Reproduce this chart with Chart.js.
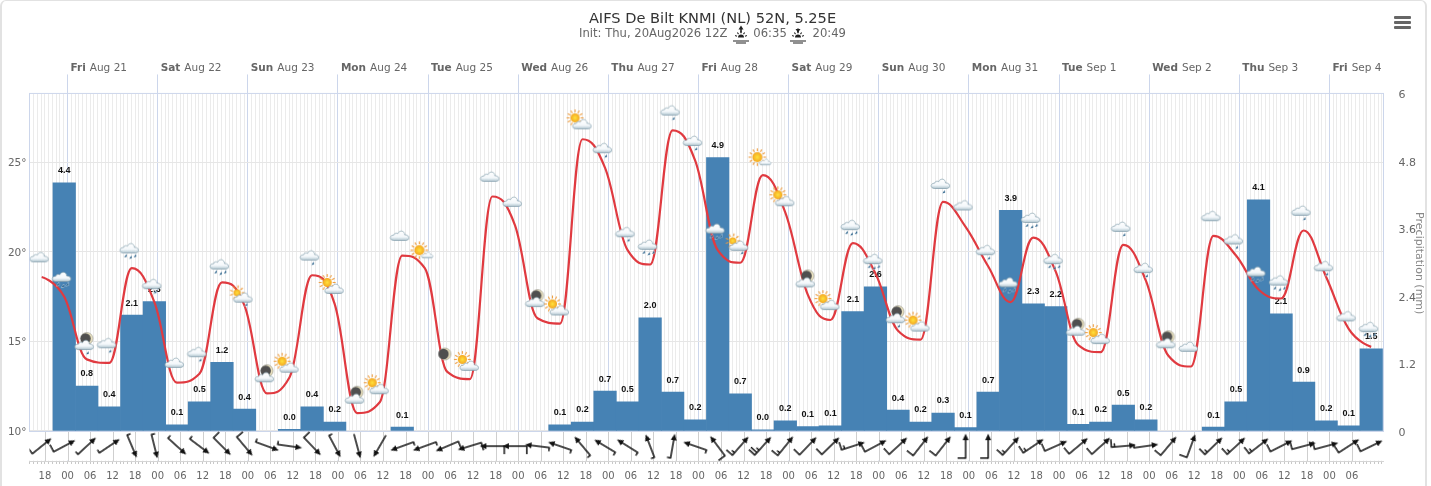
<!DOCTYPE html>
<html><head><meta charset="utf-8">
<style>
html,body{margin:0;padding:0;background:#fff;overflow:hidden}
#wrap{position:relative;width:1431px;height:486px}
canvas{position:absolute;left:0;top:0;display:block}
#frame{position:absolute;left:0;top:0;width:1423px;height:500px;border:2px solid #e2e2e2;border-radius:6px;pointer-events:none;box-sizing:content-box;border-left-width:2px;border-top-width:1px}
.mb{position:absolute;left:1394px;width:17px;height:3px;background:#666;border-radius:1px}
</style>
<script src="https://cdn.jsdelivr.net/npm/chart.js@4"></script>
</head><body>
<div id="wrap">
<canvas id="c" width="1425" height="486"></canvas>
<div id="frame"></div>
<div class="mb" style="top:16px"></div><div class="mb" style="top:21px"></div><div class="mb" style="top:26px"></div>
</div>
<script>
const titleText = 'AIFS De Bilt KNMI (NL) 52N, 5.25E';
const subtitleText = 'Init: Thu, 20Aug2026 12Z       06:35       20:49';
const axisTitle = 'Precipitation (mm)';
const dayNames = ['Fri','Sat','Sun','Mon','Tue','Wed','Thu','Fri','Sat','Sun','Mon','Tue','Wed','Thu','Fri'];
const dayDates = ['Aug 21','Aug 22','Aug 23','Aug 24','Aug 25','Aug 26','Aug 27','Aug 28','Aug 29','Aug 30','Aug 31','Sep 1','Sep 2','Sep 3','Sep 4'];
const tempTicks = [10,15,20,25];
const precipTicks = [0,1.2,2.4,3.6,4.8,6];
const temps = [18.6,17.5,14.0,13.8,19.1,17.2,12.7,13.2,18.3,17.0,12.1,13.0,18.7,17.1,11.0,11.6,19.8,19.1,13.3,12.9,
 23.1,21.5,16.3,16.0,26.3,24.7,20.1,19.3,26.8,25.1,20.1,19.4,24.3,22.2,17.6,16.2,20.5,18.8,15.6,15.1,
 22.8,21.4,19.2,17.2,20.8,18.9,14.8,14.4,20.4,18.4,14.2,13.6,20.9,19.8,17.9,17.4,21.2,18.6,15.7,14.7];
const precip = [4.41,0.8,0.43,2.06,2.3,0.11,0.52,1.22,0.39,null,0.03,0.43,0.16,null,null,0.07,null,null,null,null,null,null,
 0.11,0.16,0.71,0.52,2.01,0.69,0.2,4.86,0.66,0.02,0.18,0.08,0.09,2.12,2.56,0.37,0.16,0.32,0.06,0.69,3.92,2.26,2.21,0.12,0.16,0.46,0.2,null,null,
 0.07,0.52,4.11,2.08,0.87,0.18,0.09,1.46];
const iconKinds = ['c','R','mr','r','R','r','c','r','R','sr','m','s','r','s','m','s','c','S','n','s',
 'c','c','m','s','s','r','r','R','r','r','R','sr','S','s','m','s','R','R','mr','s',
 'r','c','r','R','R','R','m','s','r','r','m','c','c','r','R','R','r','r','c','R'];
const iconTemps = [19.7,18.6,14.8,14.9,20.2,18.2,13.8,14.4,19.3,17.5,13.0,13.7,19.8,18.1,11.8,12.5,20.9,20.1,14.3,13.8,
 24.2,22.8,17.2,16.9,27.3,25.8,21.1,20.4,27.9,26.2,21.3,20.4,25.3,23.0,18.3,17.2,21.5,19.6,16.3,16.0,
 23.8,22.6,20.1,18.3,21.9,19.6,15.6,15.3,21.4,19.1,14.9,14.7,22.0,20.7,18.9,18.4,22.3,19.2,16.4,15.8];
const windHeading = [51,62,47,56,157,166,132,127,135,140,110,98,136,152,165,210,250,250,247,253,
 270,270,277,289,320,301,302,339,10,289,323,41,42,39,44,46,72,62,47,38,
 38,0,0,42,56,66,50,48,85,82,40,20,46,47,52,63,75,75,57,64];
const windKnots = [10,10,5,5,5,5,5,5,10,10,5,5,10,5,0,0,5,5,10,10,
 10,10,5,5,5,5,5,5,5,5,10,15,25,15,10,10,15,10,10,10,
 10,10,10,15,15,10,10,10,15,5,10,10,15,15,15,10,10,10,10,10];

const FONT = '"DejaVu Sans"';
const firstHour = -6.87, stepHours = 6, xMin = -10.12, xMax = 350.4;
const hourOf = k => firstHour + stepHours * k;
const yT = {min:8.32, max:28.86}, yP = {min:-0.534, max:6};
const windRowValue = -0.27;
const hours = []; for (let h = -10; h <= 350; h++) hours.push(h);
const isMajor = h => h % stepHours === 0 && h <= 345;

/* ---------- small pictogram canvases ---------- */
function cv(w,h){const c=document.createElement('canvas');c.width=w;c.height=h;return c;}
function cloud(g,x,y,s){
  g.save();g.translate(x,y);g.scale(s,s);
  g.beginPath();
  g.moveTo(-6,4.5);
  g.bezierCurveTo(-10.5,4.5,-10.5,-1,-6,-0.8);
  g.bezierCurveTo(-5.5,-3,-3,-3.2,-2,-2.2);
  g.bezierCurveTo(-0.5,-6.2,5,-5.5,5,-1);
  g.bezierCurveTo(10,-1.5,10.5,4.5,6,4.5);
  g.closePath();
  const gr=g.createLinearGradient(0,-5,0,5);
  gr.addColorStop(0,'#ffffff');gr.addColorStop(.6,'#f4f8fb');gr.addColorStop(.82,'#c9d8e0');gr.addColorStop(1,'#9fb3bd');
  g.fillStyle=gr;g.fill();
  g.lineWidth=.7;g.strokeStyle='#7f9cab';g.stroke();
  g.restore();
}
function drop(g,x,y){
  g.beginPath();g.moveTo(x+1.1,y-2);g.lineTo(x+1.4,y+.8);g.lineTo(x-1.2,y+1.6);g.closePath();
  g.strokeStyle='rgba(255,255,255,.75)';g.lineWidth=.8;g.stroke();
  g.fillStyle='#265f88';g.fill();
}
function sun(g,x,y,r,rays){
  g.strokeStyle='#ee9a3a';g.lineWidth=1.1;
  for(let i=0;i<rays;i++){const a=i/rays*Math.PI*2;g.beginPath();g.moveTo(x+Math.cos(a)*(r+1),y+Math.sin(a)*(r+1));g.lineTo(x+Math.cos(a)*(r+3.8),y+Math.sin(a)*(r+3.8));g.stroke();}
  const gr=g.createRadialGradient(x,y,0,x,y,r);gr.addColorStop(0,'#ffe23c');gr.addColorStop(1,'#f4a51f');
  g.fillStyle=gr;g.beginPath();g.arc(x,y,r,0,7);g.fill();
}
function moon(g,x,y,r){
  g.fillStyle='#efe6c2';g.beginPath();g.arc(x,y,r,0,7);g.fill();
  g.strokeStyle='#8a8a80';g.lineWidth=.6;g.stroke();
  g.fillStyle='#4f4f4f';g.beginPath();g.arc(x-1.3,y,r-.8,0,7);g.fill();
}
const iconCache={};
function icon(kind){
  if(iconCache[kind])return iconCache[kind];
  const c=cv(40,40),g=c.getContext('2d'),ox=17.5,oy=20;
  switch(kind){
    case 'c':cloud(g,ox,oy,1);break;
    case 'r':cloud(g,ox,oy,1);drop(g,ox+3,oy+8);break;
    case 'R':cloud(g,ox,oy,1);drop(g,ox-4,oy+7.5);drop(g,ox+1,oy+9);drop(g,ox+5.5,oy+7.5);break;
    case 's':sun(g,ox-5,oy-3.5,4.6,12);cloud(g,ox+2,oy+3,1);break;
    case 'sr':sun(g,ox-5,oy-4,3.6,9);cloud(g,ox+1,oy+1,1);drop(g,ox+4,oy+8);break;
    case 'S':sun(g,ox-3,oy,5,12);cloud(g,ox+5,oy+5,.62);break;
    case 'm':moon(g,ox+2.5,oy-6.5,6);cloud(g,ox,oy,1);break;
    case 'mr':moon(g,ox+2.5,oy-6.5,6);cloud(g,ox,oy,1);drop(g,ox+3,oy+8);break;
    case 'n':moon(g,ox,oy,6);break;
  }
  return iconCache[kind]=c;
}
const barbCache={};
function barb(kt){
  if(barbCache[kt])return barbCache[kt];
  const c=cv(36,36),g=c.getContext('2d'),x=18;
  g.strokeStyle='#111';g.fillStyle='#111';g.lineWidth=1.5;g.lineCap='butt';
  g.beginPath();g.moveTo(x,30.5);g.lineTo(x,10);g.stroke();
  g.beginPath();g.moveTo(x,5.5);g.lineTo(x-3,12);g.lineTo(x+3,12);g.closePath();g.fill();
  let rest=kt,y=29.9;
  while(rest>=10){g.beginPath();g.moveTo(x,y);g.lineTo(x-8,y);g.stroke();rest-=10;y-=3.2;}
  if(rest>=5){g.beginPath();g.moveTo(x,y);g.lineTo(x-3.6,y);g.stroke();}
  return barbCache[kt]=c;
}
const iconImgs=iconKinds.map(icon), barbImgs=windKnots.map(barb);

/* ---------- spline handles: 0.4-step handles, no false extremes ---------- */
function setSplineHandles(line,pts){
  const n=pts.length;
  pts.forEach((p,i)=>{
    if(i===0||i===n-1){p.cp1x=p.cp2x=p.x;p.cp1y=p.cp2y=p.y;return;}
    const a=pts[i-1],b=pts[i+1];
    const lx=(1.5*p.x+a.x)/2.5,rx=(1.5*p.x+b.x)/2.5;
    let ly=(1.5*p.y+a.y)/2.5,ry=(1.5*p.y+b.y)/2.5;
    const cor=(ry-ly)*(rx-p.x)/(rx-lx)+p.y-ry;
    ly+=cor;ry+=cor;
    if(ly>a.y&&ly>p.y){ly=Math.max(a.y,p.y);ry=2*p.y-ly;}
    else if(ly<a.y&&ly<p.y){ly=Math.min(a.y,p.y);ry=2*p.y-ly;}
    if(ry>b.y&&ry>p.y){ry=Math.max(b.y,p.y);ly=2*p.y-ry;}
    else if(ry<b.y&&ry<p.y){ry=Math.min(b.y,p.y);ly=2*p.y-ry;}
    p.cp1x=lx;p.cp1y=ly;p.cp2x=rx;p.cp2y=ry;
  });
  line._pointsUpdated=true;
}

/* ---------- plugins ---------- */
const decor={
  id:'decor',
  beforeDatasetsDraw(ch){
    const {ctx,chartArea:a,scales:s}=ch, y0=Math.round(s.yP.getPixelForValue(0))+.5;
    ctx.save();
    ctx.fillStyle='#fff';ctx.fillRect(a.left-0.5,y0,a.width+1,a.bottom-y0-0.5);
    ctx.strokeStyle='#cfcfcf';ctx.lineWidth=1;ctx.beginPath();
    hours.filter(isMajor).forEach(h=>{const x=Math.round(s.x.getPixelForValue(h))+.5;ctx.moveTo(x,y0);ctx.lineTo(x,a.bottom);});
    ctx.stroke();
    ctx.strokeStyle='#ccd6eb';ctx.strokeRect(a.left,a.top,a.width,y0-a.top);
    ctx.restore();
  },
  beforeDatasetDraw(ch,args){
    if(args.index===1)setSplineHandles(args.meta.dataset,args.meta.data);
  },
  afterDatasetDraw(ch,args){
    if(args.index!==0)return;
    const {ctx}=ch;ctx.save();
    ctx.font='bold 9px "Liberation Sans"';ctx.fillStyle='#111';ctx.textAlign='center';ctx.textBaseline='middle';
    args.meta.data.forEach((el,i)=>{const v=precip[i];if(v==null)return;ctx.fillText(v.toFixed(1),el.x,el.y-12);});
    ctx.restore();
  },
  afterDraw(ch){
    const {ctx,scales:s}=ch;ctx.save();
    ctx.textBaseline='middle';ctx.fillStyle='#666';
    dayNames.forEach((n,i)=>{
      const x=s.xTop.getPixelForValue(i*24)+3;
      ctx.font='bold 10.5px '+FONT;ctx.fillText(n,x,68);
      const w=ctx.measureText(n).width;
      ctx.font='10.5px '+FONT;ctx.fillText(dayDates[i],x+w+4,68);
    });
    [[741,1],[798,-1]].forEach(([x,d])=>{
      const y=37.5;ctx.strokeStyle='#222';ctx.fillStyle='#222';ctx.lineWidth=1.1;
      ctx.beginPath();ctx.arc(x,y,3,Math.PI,0);ctx.fill();
      for(let i=0;i<5;i++){const a=Math.PI+(i+.5)/5*Math.PI;ctx.beginPath();ctx.moveTo(x+Math.cos(a)*4.2,y+Math.sin(a)*4.2);ctx.lineTo(x+Math.cos(a)*6.2,y+Math.sin(a)*6.2);ctx.stroke();}
      ctx.beginPath();ctx.moveTo(x-8,y+3.5);ctx.lineTo(x+8,y+3.5);ctx.moveTo(x-5,y+5.5);ctx.lineTo(x+5,y+5.5);ctx.stroke();
      ctx.lineWidth=1.6;ctx.beginPath();ctx.moveTo(x,y-5);ctx.lineTo(x,y-9);ctx.stroke();
      ctx.beginPath();
      if(d>0){ctx.moveTo(x,y-12);ctx.lineTo(x-2.5,y-8);ctx.lineTo(x+2.5,y-8);}
      else{ctx.moveTo(x,y-5);ctx.lineTo(x-2.5,y-8.5);ctx.lineTo(x+2.5,y-8.5);}
      ctx.closePath();ctx.fill();
    });
    ctx.restore();
  }
};

/* ---------- chart ---------- */
const fit=(prop,val)=>s=>{s[prop]=val;};
new Chart(document.getElementById('c'),{
  type:'line',
  data:{datasets:[
    {type:'bar',label:'Precipitation',order:4,yAxisID:'yP',xAxisID:'x',
     data:precip.map((v,k)=>({x:hourOf(k+1),y:v})),
     backgroundColor:'#4682b4',barThickness:22.54,borderWidth:0},
    {type:'line',label:'Temperature',order:3,yAxisID:'yT',xAxisID:'x',
     data:temps.map((v,k)=>({x:hourOf(k),y:v})),
     borderColor:'#e03a40',borderWidth:2.2,tension:0.4,pointRadius:0,fill:false},
    {type:'line',label:'Weather',order:2,yAxisID:'yT',xAxisID:'x',showLine:false,
     data:iconTemps.map((v,k)=>({x:hourOf(k),y:v})),
     pointRadius:1,pointStyle:c=>iconImgs[c.dataIndex]},
    {type:'line',label:'Wind',order:1,yAxisID:'yP',xAxisID:'x',showLine:false,
     data:windHeading.map((v,k)=>({x:hourOf(k),y:windRowValue})),
     pointRadius:1,pointStyle:c=>barbImgs[c.dataIndex],pointRotation:c=>windHeading[c.dataIndex]}
  ]},
  options:{
    responsive:false,animation:false,devicePixelRatio:1,events:[],
    layout:{padding:0},
    plugins:{
      legend:{display:false},tooltip:{enabled:false},
      title:{display:true,text:titleText,color:'#333',font:{family:FONT,size:14.6,weight:'normal',lineHeight:1.2},padding:{top:10,bottom:0}},
      subtitle:{display:true,text:subtitleText,color:'#666',font:{family:FONT,size:11.6,weight:'normal',lineHeight:1.2},padding:{top:0,bottom:4}}
    },
    scales:{
      x:{type:'linear',position:'bottom',offset:false,min:xMin,max:xMax,
         afterBuildTicks:s=>{s.ticks=hours.map(v=>({value:v}));},
         afterFit:fit('height',25),
         border:{display:true,color:'#d5d5d5'},
         grid:{offset:false,drawTicks:true,tickLength:3,
               color:c=>(c.tick&&c.tick.value%24===0)?'#ccd6eb':'#ebebeb',
               tickColor:'#c8c8c8'},
         ticks:{autoSkip:false,maxRotation:0,minRotation:0,padding:6,color:'#666',font:{family:FONT,size:10},
                callback:v=>isMajor(v)?String(((v%24)+24)%24).padStart(2,'0'):''}},
      xTop:{type:'linear',position:'top',offset:false,min:xMin,max:xMax,
         afterBuildTicks:s=>{s.ticks=dayNames.map((n,i)=>({value:i*24}));},
         afterFit:fit('height',48),
         border:{display:false},
         grid:{offset:false,drawOnChartArea:false,drawTicks:true,tickLength:19,tickColor:'#ccd6eb',color:'#ccd6eb'},
         ticks:{display:false}},
      yT:{type:'linear',position:'left',min:yT.min,max:yT.max,
         afterBuildTicks:s=>{s.ticks=tempTicks.map(v=>({value:v}));},
         afterFit:fit('width',29.5),
         border:{display:false},
         grid:{color:'#e6e6e6',drawTicks:false},
         ticks:{padding:3,labelOffset:1,color:'#666',font:{family:FONT,size:10.5},callback:v=>v+'°'}},
      yP:{type:'linear',position:'right',min:yP.min,max:yP.max,
         afterBuildTicks:s=>{s.ticks=precipTicks.map(v=>({value:v}));},
         afterFit:fit('width',41.5),
         border:{display:false},
         grid:{drawOnChartArea:false,drawTicks:false},
         title:{display:true,text:axisTitle+'        ',color:'#888',padding:0,font:{family:FONT,size:11}},
         ticks:{padding:15,labelOffset:2,color:'#666',font:{family:FONT,size:11},callback:v=>String(v)}}
    }
  },
  plugins:[decor]
});
</script>
</body></html>
